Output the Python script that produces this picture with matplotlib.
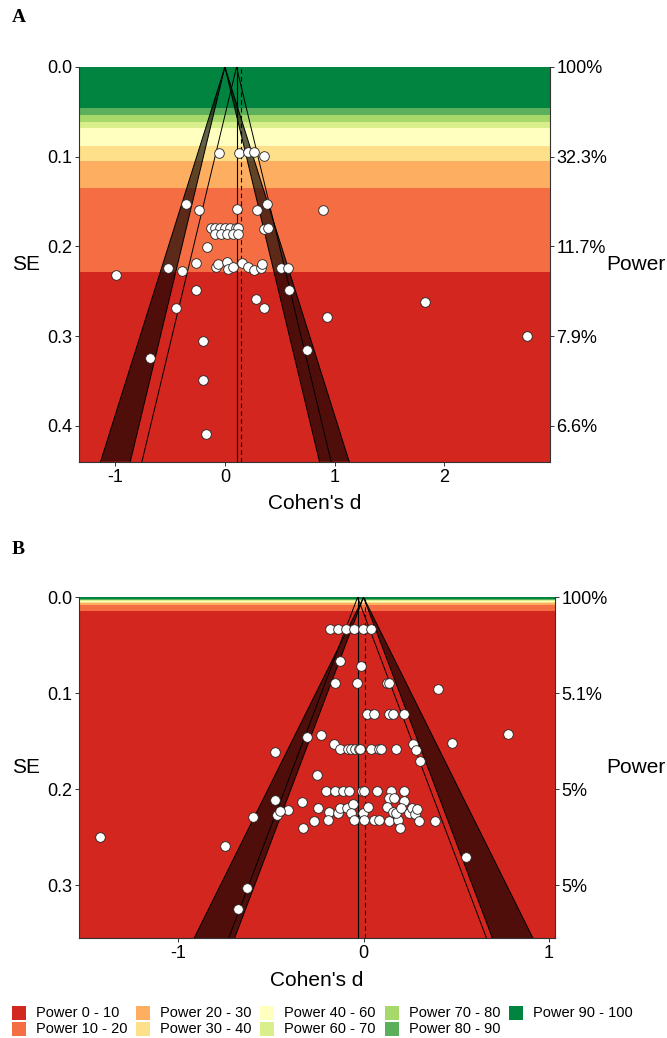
import numpy as np
import matplotlib.pyplot as plt
from matplotlib.patches import Polygon, Rectangle

plt.rcParams['font.family'] = ['Liberation Sans', 'DejaVu Sans']
plt.rcParams['axes.unicode_minus'] = False

# power bands (lowest power first)
band_labels = ["Power 0 - 10", "Power 10 - 20", "Power 20 - 30", "Power 30 - 40",
               "Power 40 - 60", "Power 60 - 70", "Power 70 - 80", "Power 80 - 90",
               "Power 90 - 100"]
band_colors = ["#D3261F", "#F46D43", "#FDAE61", "#FEE08B", "#FFFFBF",
               "#D9EF8B", "#A6D96A", "#5CB05C", "#00843F"]

# ---- panel A ----
# SE where each band starts (upper edge), same order as band_labels
a_band_top = [0.229, 0.1345, 0.105, 0.088, 0.068, 0.061, 0.0535, 0.046, 0.0]
a_summary = 0.106
a_true = 0.148
a_yticks = [0.0, 0.1, 0.2, 0.3, 0.4]
a_power = ["100%", "32.3%", "11.7%", "7.9%", "6.6%"]
a_xticks = [-1, 0, 1, 2]

a_d = [-0.05, 0.128, 0.21, 0.268, 0.353,
       -0.356, -0.238, 0.112, 0.297, 0.385, 0.892,
       -0.125, -0.088, -0.043, 0.005, 0.051, 0.097, 0.118,
       -0.088, -0.035, 0.02, 0.075, 0.124,
       0.355, 0.395,
       -0.159,
       -0.52, -0.387, -0.263, -0.08, -0.066, 0.015, 0.03, 0.075, 0.16, 0.21,
       0.264, 0.33, 0.337, 0.512, 0.578,
       -0.996, -0.263, 0.586, 0.287, 0.357, -0.446, 1.823, 0.927,
       2.757, -0.198, -0.686, 0.753, -0.201, -0.17]
a_se = [0.096, 0.096, 0.095, 0.095, 0.0996,
        0.153, 0.159, 0.158, 0.159, 0.153, 0.159,
        0.179, 0.179, 0.179, 0.179, 0.179, 0.179, 0.179,
        0.186, 0.186, 0.186, 0.186, 0.186,
        0.181, 0.180,
        0.2007,
        0.2237, 0.2274, 0.219, 0.2226, 0.2191, 0.2177, 0.2255, 0.2226, 0.2185, 0.2226,
        0.2263, 0.2237, 0.2196, 0.2237, 0.2237,
        0.232, 0.249, 0.249, 0.259, 0.269, 0.269, 0.262, 0.279,
        0.2999, 0.3055, 0.324, 0.315, 0.349, 0.409]

# ---- panel B ----
b_band_top = [0.0143, 0.0085, 0.0062, 0.0050, 0.0035, 0.0030, 0.0025, 0.0020, 0.0]
b_summary = -0.032
b_true = 0.007
b_yticks = [0.0, 0.1, 0.2, 0.3]
b_power = ["100%", "5.1%", "5%", "5%"]
b_xticks = [-1, 0, 1]

b_d = [-0.183, -0.139, -0.093, -0.049, -0.004, 0.041,
       -0.128, -0.014, -0.155, -0.034, 0.126, 0.137, 0.403,
       0.02, 0.056, 0.137, 0.158, 0.217,
       -0.227, -0.307, -0.48, -0.158,
       -0.126, -0.086, -0.065, -0.045, -0.027, -0.02, 0.041, 0.086, 0.097, 0.173,
       0.266, 0.282, 0.306, 0.475, 0.778, -0.253,
       -0.201, -0.153, -0.112, -0.076, -0.007, 0.0, 0.074, 0.147, 0.217,
       0.137, 0.166, 0.221, -0.48, -0.331, -0.597, -0.466, -0.406, -0.448, -0.248,
       -0.187, -0.137, -0.126, -0.088, -0.058, -0.07, -0.004, 0.025,
       -0.268, -0.189, -0.049, 0.002, 0.056, 0.083, 0.137, 0.185,
       0.128, 0.158, 0.176, 0.2, 0.243, 0.261, 0.277, 0.291, 0.298, 0.388,
       -0.327, 0.198,
       -1.42, -0.745, 0.551, -0.626, -0.679]
b_se = [0.033, 0.033, 0.033, 0.033, 0.033, 0.033,
        0.066, 0.0716, 0.0893, 0.0893, 0.0893, 0.0893, 0.0955,
        0.1219, 0.1219, 0.1219, 0.1219, 0.1219,
        0.1438, 0.145, 0.161, 0.153,
        0.1584, 0.1584, 0.1584, 0.1584, 0.1584, 0.1584, 0.1584, 0.1584, 0.1584, 0.1584,
        0.153, 0.159, 0.1705, 0.1518, 0.1424, 0.1854,
        0.2015, 0.2015, 0.2015, 0.2015, 0.2015, 0.2015, 0.2015, 0.2015, 0.2015,
        0.2094, 0.2088, 0.2122, 0.2108, 0.2129, 0.2289, 0.2268, 0.221, 0.222, 0.2198,
        0.224, 0.2244, 0.219, 0.219, 0.2157, 0.2244, 0.2244, 0.2188,
        0.2327, 0.232, 0.2317, 0.2317, 0.2317, 0.2317, 0.2333, 0.2323,
        0.2188, 0.2233, 0.2244, 0.2192, 0.2244, 0.2198, 0.2254, 0.2202, 0.2327, 0.2333,
        0.2403, 0.2406,
        0.25, 0.2587, 0.2705, 0.3025, 0.325]

z05 = 1.96
z01 = 2.576
W, H = 667.0, 1038.0


def draw_panel(ax, d, se, band_top, summary, true_eff, xlim, smax,
               yticks, power_labels, xticks, left_px, right_px):
    # power bands
    lower = smax
    for top, col in zip(band_top, band_colors):
        ax.axhspan(top, lower, color=col, lw=0, zorder=0)
        lower = top

    # significance contours around zero (p .05 - .01)
    for sgn in (-1, 1):
        poly = Polygon([(0, 0), (sgn * z01 * smax, smax), (sgn * z05 * smax, smax)],
                       closed=True, facecolor="black", alpha=0.62, lw=0, zorder=1)
        ax.add_patch(poly)
        ax.plot([0, sgn * z01 * smax], [0, smax], color="black", lw=0.7, zorder=2)
        ax.plot([0, sgn * z05 * smax], [0, smax], color="black", lw=0.7, zorder=2)
        # funnel around the summary effect
        ax.plot([summary, summary + sgn * z05 * smax], [0, smax],
                color="black", lw=0.7, zorder=2)

    ax.axvline(summary, color="black", lw=0.8, zorder=2)
    ax.axvline(true_eff, color="black", lw=0.8, ls=(0, (4, 3)), zorder=2)

    ax.scatter(d, se, s=48, facecolor="white", edgecolor="#222222",
               linewidths=0.6, zorder=5, clip_on=True)

    width_px = right_px - left_px
    ax.set_xlim(*xlim)
    ax.set_ylim(smax, 0)
    ax.set_yticks(yticks)
    ax.set_yticklabels([f"{t:.1f}" for t in yticks])
    ax.set_xticks(xticks)
    ax.set_xlabel("Cohen's d", fontsize=15, labelpad=6)
    ax.set_ylabel("SE", fontsize=15, rotation=0, va="center", ha="center")
    ax.yaxis.set_label_coords((26.5 - left_px) / width_px, 0.5)
    ax.tick_params(labelsize=13, length=3, width=0.7, color="#333333", pad=2)
    for sp in ("left", "bottom"):
        ax.spines[sp].set_color("#333333")
        ax.spines[sp].set_linewidth(0.8)
    ax.spines["top"].set_visible(False)
    ax.spines["right"].set_visible(False)

    ax2 = ax.twinx()
    ax2.set_ylim(smax, 0)
    ax2.set_yticks(yticks)
    ax2.set_yticklabels(power_labels)
    ax2.tick_params(labelsize=13, length=3, width=0.7, color="#333333", pad=2)
    ax2.set_ylabel("Power", fontsize=15, rotation=0, va="center", ha="left")
    ax2.yaxis.set_label_coords((606 - left_px) / width_px, 0.5)
    for sp in ("left", "top", "bottom"):
        ax2.spines[sp].set_visible(False)
    ax2.spines["right"].set_color("#333333")
    ax2.spines["right"].set_linewidth(0.8)


fig = plt.figure(figsize=(6.67, 10.38), dpi=100)
axA = fig.add_axes([79 / W, 1 - 461.7 / H, (549.6 - 79) / W, (461.7 - 67) / H])
axB = fig.add_axes([79 / W, 1 - 938.3 / H, (554.8 - 79) / W, (938.3 - 597.3) / H])

draw_panel(axA, a_d, a_se, a_band_top, a_summary, a_true, (-1.33, 2.96), 0.44,
           a_yticks, a_power, a_xticks, 79, 549.6)
draw_panel(axB, b_d, b_se, b_band_top, b_summary, b_true, (-1.535, 1.032), 0.355,
           b_yticks, b_power, b_xticks, 79, 554.8)

fig.text(0.018, 0.983, "A", fontsize=14, fontweight="bold",
         family="Liberation Serif", va="center")
fig.text(0.018, 0.471, "B", fontsize=14, fontweight="bold",
         family="Liberation Serif", va="center")

# legend at the bottom, filled column by column
col_x = [12, 136, 260, 385, 509]
row_y = [1013, 1029]
for i, (lab, col) in enumerate(zip(band_labels, band_colors)):
    c, r = divmod(i, 2)
    x0 = col_x[c]
    y0 = row_y[r]
    fig.add_artist(Rectangle((x0 / W, 1 - (y0 + 7) / H), 14 / W, 14 / H,
                             transform=fig.transFigure, facecolor=col, lw=0))
    fig.text((x0 + 24) / W, 1 - y0 / H, lab, fontsize=10.5, va="center", ha="left")

fig.savefig("out.png", dpi=100)
